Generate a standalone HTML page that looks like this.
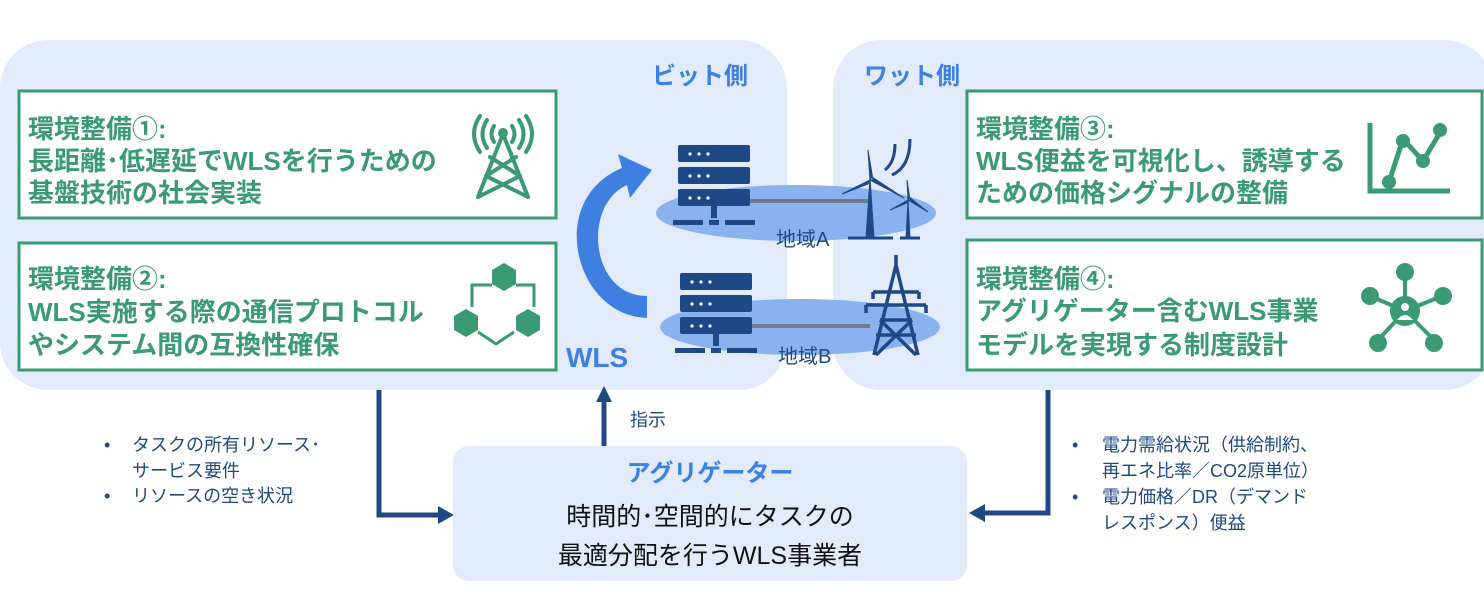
<!DOCTYPE html>
<html><head><meta charset="utf-8"><style>
body{margin:0;width:1484px;height:588px;background:#fff;overflow:hidden;font-family:"Liberation Sans","Noto Sans CJK JP",sans-serif;}
</style></head><body>
<svg width="1484" height="588" viewBox="0 0 1484 588" xmlns="http://www.w3.org/2000/svg" font-family="Liberation Sans, Noto Sans CJK JP, sans-serif">
<rect x="0" y="40" width="787" height="350" rx="48" fill="#e2ebfa"/>
<rect x="833" y="40" width="660" height="350" rx="48" fill="#e2ebfa"/>
<text x="700" y="84" font-size="24" font-weight="bold" fill="#3d7fe3" text-anchor="middle">ビット側</text>
<text x="912" y="84" font-size="24" font-weight="bold" fill="#3d7fe3" text-anchor="middle">ワット側</text>
<g fill="#fff" stroke="#3a9a72" stroke-width="3">
<rect x="19" y="91" width="537" height="127"/>
<rect x="19" y="243" width="537" height="127"/>
<rect x="967" y="91" width="515" height="127"/>
<rect x="967" y="240" width="515" height="130"/>
</g>
<g font-size="26" font-weight="bold" fill="#3a9a72">
<text x="28" y="138">環境整備①:</text>
<text x="28" y="170">長距離･低遅延でWLSを行うための</text>
<text x="28" y="202">基盤技術の社会実装</text>
<text x="28" y="288">環境整備②:</text>
<text x="28" y="321">WLS実施する際の通信プロトコル</text>
<text x="28" y="354">やシステム間の互換性確保</text>
<text x="976" y="138">環境整備③:</text>
<text x="976" y="170">WLS便益を可視化し、誘導する</text>
<text x="976" y="202">ための価格シグナルの整備</text>
<text x="976" y="288">環境整備④:</text>
<text x="976" y="320">アグリゲーター含むWLS事業</text>
<text x="976" y="354">モデルを実現する制度設計</text>
</g>
<g stroke="#3a9a72" stroke-width="4" fill="none" stroke-linecap="round">
<line x1="503" y1="134" x2="478" y2="197"/><line x1="503" y1="134" x2="528" y2="197"/>
<line x1="478" y1="197" x2="520" y2="176"/><line x1="528" y1="197" x2="486" y2="176"/>
<line x1="486" y1="176" x2="516" y2="157"/><line x1="520" y1="176" x2="490" y2="157"/>
<path d="M494 126 q-5 8 0 16 M512 126 q5 8 0 16 M487 120 q-9 14 0 28 M519 120 q9 14 0 28 M480 116 q-12 18 0 36 M526 116 q12 18 0 36"/>
</g>
<circle cx="503" cy="133" r="5" fill="#3a9a72"/>
<g fill="#3a9a72">
<path d="M492 270 l12 -7 12 7 v14 l-12 7 -12 -7z"/>
<path d="M454 316 l12 -7 12 7 v14 l-12 7 -12 -7z"/>
<path d="M516 316 l12 -7 12 7 v14 l-12 7 -12 -7z"/>
</g>
<g stroke="#3a9a72" stroke-width="3" fill="none">
<path d="M492 285 h-20 v22 M516 285 h18 v22 M478 332 l18 12 l18 -12"/>
</g>
<g stroke="#3a9a72" fill="none" stroke-width="5">
<path d="M1370 123 v68 h80"/>
<path d="M1389 182 l14 -43 l20 22 l18 -30"/>
</g>
<g fill="#3a9a72"><circle cx="1389" cy="182" r="7"/><circle cx="1403" cy="141" r="7"/><circle cx="1423" cy="161" r="7"/><circle cx="1440" cy="130" r="7"/></g>
<g stroke="#3a9a72" stroke-width="4">
<line x1="1405" y1="311" x2="1405" y2="273"/><line x1="1405" y1="311" x2="1370" y2="296"/><line x1="1405" y1="311" x2="1442" y2="296"/>
<line x1="1405" y1="311" x2="1378" y2="340"/><line x1="1405" y1="311" x2="1434" y2="340"/>
</g>
<g fill="#3a9a72"><circle cx="1405" cy="311" r="15"/><circle cx="1405" cy="272" r="9"/><circle cx="1370" cy="296" r="9"/><circle cx="1443" cy="296" r="9"/><circle cx="1378" cy="343" r="9"/><circle cx="1434" cy="343" r="9"/></g>
<g fill="#fff"><circle cx="1405" cy="307" r="4"/><path d="M1397 320 q8 -10 16 0z"/></g>
<ellipse cx="796" cy="213" rx="140" ry="28" fill="#8ab2ef"/>
<ellipse cx="800" cy="327" rx="140" ry="28" fill="#8ab2ef"/>
<line x1="748" y1="201" x2="868" y2="201" stroke="#6f7a8a" stroke-width="4"/>
<line x1="748" y1="326" x2="870" y2="326" stroke="#6f7a8a" stroke-width="4"/>
<text x="776" y="246" font-size="20" fill="#1f4886">地域A</text>
<text x="778" y="363" font-size="20" fill="#1f4886">地域B</text>
<g fill="#1f4886">
<rect x="678" y="145" width="72" height="17" rx="2"/><rect x="678" y="167" width="72" height="17" rx="2"/><rect x="678" y="189" width="72" height="17" rx="2"/>
<rect x="711" y="206" width="6" height="12"/><rect x="673" y="220" width="30" height="5"/><rect x="709" y="220" width="10" height="5"/><rect x="725" y="220" width="30" height="5"/>
<rect x="680" y="273" width="72" height="17" rx="2"/><rect x="680" y="295" width="72" height="17" rx="2"/><rect x="680" y="317" width="72" height="17" rx="2"/>
<rect x="713" y="334" width="6" height="12"/><rect x="675" y="348" width="30" height="5"/><rect x="711" y="348" width="10" height="5"/><rect x="727" y="348" width="30" height="5"/>
</g>
<g fill="#fff">
<circle cx="690" cy="154" r="1.6"/><circle cx="699" cy="154" r="1.6"/><circle cx="708" cy="154" r="1.6"/>
<circle cx="690" cy="176" r="1.6"/><circle cx="699" cy="176" r="1.6"/><circle cx="708" cy="176" r="1.6"/>
<circle cx="690" cy="198" r="1.6"/><circle cx="699" cy="198" r="1.6"/><circle cx="708" cy="198" r="1.6"/>
<circle cx="692" cy="282" r="1.6"/><circle cx="701" cy="282" r="1.6"/><circle cx="710" cy="282" r="1.6"/>
<circle cx="692" cy="304" r="1.6"/><circle cx="701" cy="304" r="1.6"/><circle cx="710" cy="304" r="1.6"/>
<circle cx="692" cy="326" r="1.6"/><circle cx="701" cy="326" r="1.6"/><circle cx="710" cy="326" r="1.6"/>
</g>
<g fill="#1f4886" stroke="#1f4886">
<path d="M866 238 l4 -60 l4 60z" stroke-width="1"/>
<path d="M870 180 l-2 -30 l5 30z M870 180 l-28 14 l26 -10z M870 180 l34 18 l-32 -21z" stroke-width="1"/>
<line x1="848" y1="238" x2="893" y2="238" stroke-width="3"/>
<path d="M906 238 l2 -38 l2 38z" stroke-width="1"/>
<path d="M908 200 l-1 -20 l3 20z M908 200 l-18 10 l17 -7z M908 200 l20 12 l-19 -15z" stroke-width="1"/>
<line x1="900" y1="238" x2="920" y2="238" stroke-width="3"/>
<path d="M885 170 q10 -8 10 -26 M892 175 q18 -8 18 -36" fill="none" stroke-width="3"/>
</g>
<g stroke="#1f4886" stroke-width="3.5" fill="none">
<path d="M896 265 l-22 90 M896 265 l22 90 M873 292 h46 M866 305 h60 M880 320 h32 M876 335 h40 M880 320 l36 35 M912 320 l-36 35 M896 265 v-10 M866 305 v8 M926 305 v8 M873 292 v7 M919 292 v7"/>
</g>
<path d="M647 318 C575 316 545 200 622 168 L618 154 L652 170 L630 198 L627 185 C582 205 590 296 647 296 Z" fill="#3f7fe2"/>
<text x="566" y="367" font-size="28" font-weight="bold" fill="#3d7fe3">WLS</text>
<g stroke="#1f4886" stroke-width="5" fill="none">
<path d="M379 390 V515 H440"/>
<path d="M1048 390 V513 H983"/>
<line x1="604" y1="446" x2="604" y2="400"/>
</g>
<g fill="#1f4886">
<path d="M438 506 L454 515 L438 524z"/>
<path d="M985 504 L969 513 L985 522z"/>
<path d="M596 402 L604 386 L612 402z"/>
</g>
<text x="630" y="426" font-size="18" fill="#1f4886">指示</text>
<rect x="453" y="446" width="514" height="135" rx="16" fill="#e2ebfa"/>
<text x="710" y="481" font-size="24" font-weight="bold" fill="#3d7fe3" text-anchor="middle">アグリゲーター</text>
<text x="710" y="525" font-size="25" fill="#111" text-anchor="middle">時間的･空間的にタスクの</text>
<text x="710" y="564" font-size="25" fill="#111" text-anchor="middle">最適分配を行うWLS事業者</text>
<g font-size="18" fill="#1f4886">
<text x="104" y="451">•</text><text x="132" y="451">タスクの所有リソース･</text>
<text x="132" y="477">サービス要件</text>
<text x="104" y="502">•</text><text x="132" y="502">リソースの空き状況</text>
<text x="1072" y="451">•</text><text x="1102" y="451">電力需給状況（供給制約、</text>
<text x="1102" y="477">再エネ比率／CO2原単位）</text>
<text x="1072" y="503">•</text><text x="1102" y="503">電力価格／DR（デマンド</text>
<text x="1102" y="529">レスポンス）便益</text>
</g>
</svg>
</body></html>
